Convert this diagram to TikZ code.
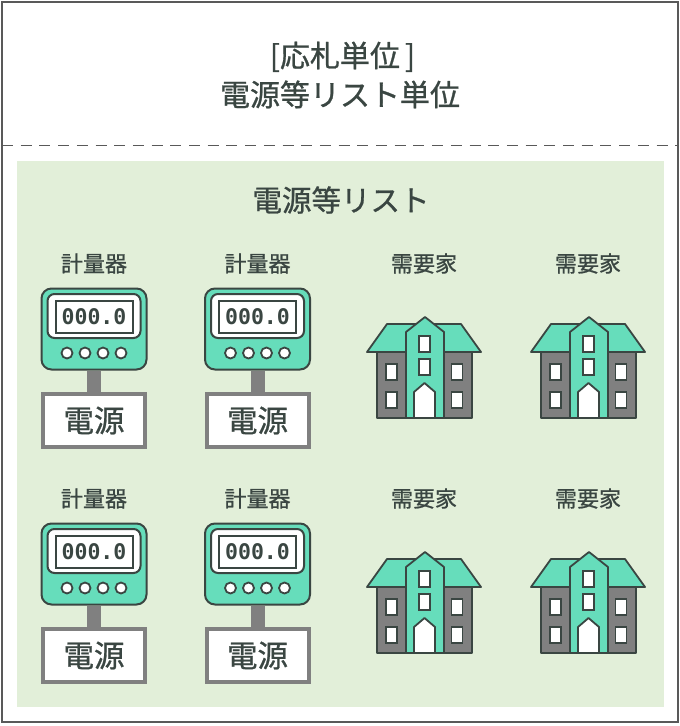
\documentclass[tikz,border=0pt]{standalone}
\usepackage{fontspec}
\setmainfont{Noto Sans CJK JP}[RawFeature={embolden=0.9}]
\newfontfamily\digitfont{DejaVu Sans Mono}
\usetikzlibrary{positioning}
\definecolor{inkdark}{HTML}{3A4642}
\definecolor{framegray}{HTML}{595959}
\definecolor{polegray}{HTML}{808080}
\definecolor{listgreen}{HTML}{E2EFD9}
\definecolor{mint}{HTML}{66DDBB}
\tikzstyle{title} = [text=inkdark, font=\fontsize{30}{39}\selectfont, align=center, inner sep=0pt]
\tikzstyle{listtitle} = [text=inkdark, font=\fontsize{29.5}{32}\selectfont, inner sep=0pt]
\tikzstyle{caption} = [text=inkdark, font=\fontsize{22}{24}\selectfont, inner sep=0pt]
\tikzstyle{meterbody} = [rectangle, rounded corners=10pt, draw=inkdark, line width=2pt, fill=mint, minimum width=105pt, minimum height=81pt, inner sep=0pt]
\tikzstyle{meterface} = [rectangle, rounded corners=7pt, draw=inkdark, line width=2pt, fill=white, minimum width=93pt, minimum height=44pt, inner sep=0pt]
\tikzstyle{meterscreen} = [rectangle, draw=inkdark, line width=2pt, fill=white, minimum width=77pt, minimum height=32pt, inner sep=0pt, font=\digitfont\bfseries\fontsize{21.5}{24}\selectfont, text=inkdark]
\tikzstyle{lamp} = [circle, draw=inkdark, line width=1.8pt, fill=white, minimum size=11pt, inner sep=0pt]
\tikzstyle{sourcebox} = [rectangle, draw=polegray, line width=4pt, fill=white, minimum width=102pt, minimum height=53pt, inner sep=0pt, text=inkdark, font=\fontsize{30.5}{32}\selectfont]
\tikzstyle{pole} = [polegray, line width=14pt]
\tikzstyle{housepart} = [draw=inkdark, line width=1.8pt, line join=round]
\tikzstyle{pane} = [rectangle, draw=inkdark, line width=1.8pt, fill=white, minimum width=11pt, minimum height=16pt, inner sep=0pt]
\tikzset{
  meter/.pic={
    \node (-label) [caption] at (53,-24.5) {計量器};
    \node (-body) [meterbody] at (53,41) {};
    \node (-face) [meterface] at (53,28) {};
    \node (-screen) [meterscreen] at (53,29) {000.0};
    \node (-lamp1) [lamp] at (26,65) {};
    \node (-lamp2) [lamp, right=5.2pt of -lamp1] {};
    \node (-lamp3) [lamp, right=5.2pt of -lamp2] {};
    \node (-lamp4) [lamp, right=5.2pt of -lamp3] {};
    \node (-box) [sourcebox] at (53,132.5) {電源};
    \draw [pole] (-body) -- (-box);
  },
  house/.pic={
    \node (-label) [caption] at (57,-24.5) {需要家};
    \draw [housepart, fill=polegray] (10,64) rectangle (105,130);
    \draw [housepart, fill=mint] (0,64) -- (20,36) -- (94,36) -- (114,64) -- cycle;
    \draw [housepart, fill=mint] (39,130) -- (39,44) -- (58,29) -- (77,44) -- (77,130) -- cycle;
    \draw [housepart, fill=white] (47,130) -- (47,104) -- (57.5,95) -- (68,104) -- (68,130) -- cycle;
    \node (-pane1) [pane] at (57.5,56) {};
    \node (-pane2) [pane] at (57.5,79) {};
    \node (-pane3) [pane] at (24.5,84) {};
    \node (-pane4) [pane] at (24.5,112) {};
    \node (-pane5) [pane] at (90,84) {};
    \node (-pane6) [pane] at (90,112) {};
  }
}
\begin{document}
\begin{tikzpicture}[x=1pt, y=-1pt]
	\useasboundingbox (0,0) rectangle (680,726);
	% Outer frame and bands
	\fill [white] (0,0) rectangle (680,726);
	\fill [listgreen] (17,161) rectangle (664,707);
	\draw [framegray, line width=2pt] (2,2) rectangle (678,722);
	\draw [framegray, line width=1.8pt, dash pattern=on 11pt off 7.7pt] (2,145.5) -- (678,145.5);

	% Titles
	\node (unit) [title] at (340,75) {\kern5pt[応札単位\kern5pt]\\電源等リスト単位};
	\node (list) [listtitle] at (341,200) {電源等リスト};

	% Meters
	\pic (M_1) at (41,288) {meter};
	\pic (M_2) at (204.5,288) {meter};
	\pic (M_3) at (41,523) {meter};
	\pic (M_4) at (204.5,523) {meter};

	% Consumers
	\pic (H_1) at (367,288) {house};
	\pic (H_2) at (531,288) {house};
	\pic (H_3) at (367,523) {house};
	\pic (H_4) at (531,523) {house};
\end{tikzpicture}
\end{document}
